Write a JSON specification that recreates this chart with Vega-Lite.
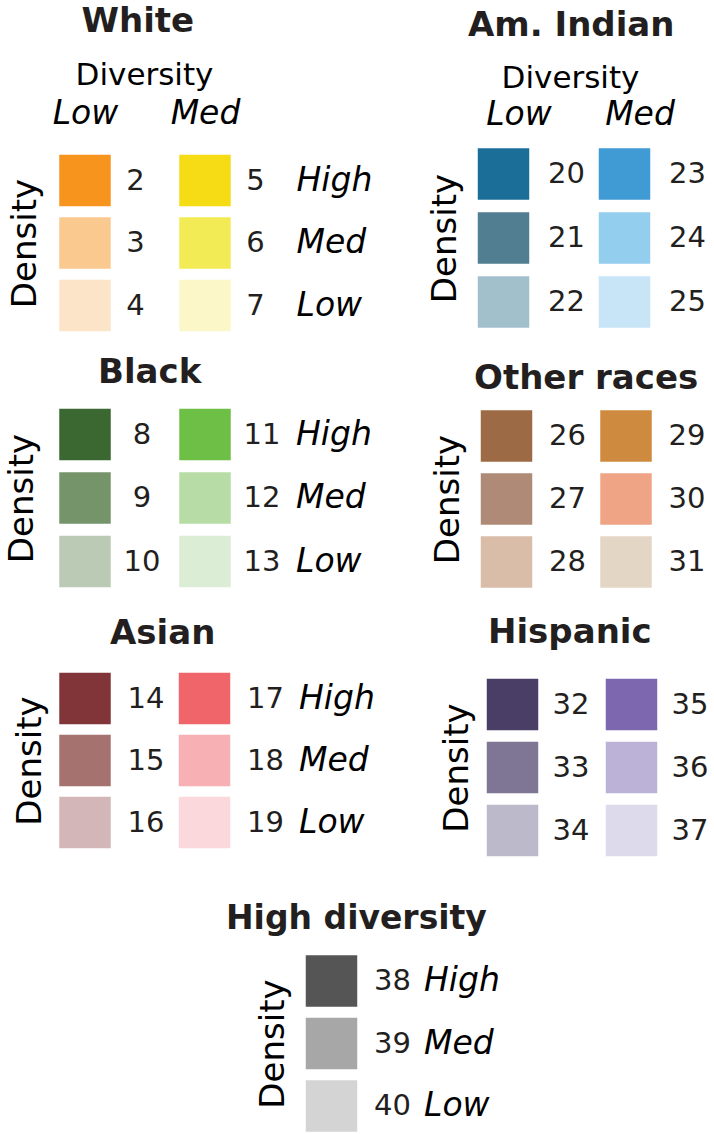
{
  "$schema": "https://vega.github.io/schema/vega-lite/v6.json",
  "padding": {"left": 5, "top": 5, "right": 4, "bottom": 0},
  "autosize": {"type": "pad"},
  "config": {
    "view": {"stroke": null},
    "font": "DejaVu Sans",
    "text": {"color": "#231f20", "font": "DejaVu Sans"},
    "axis": {"titleFont": "DejaVu Sans", "labelFont": "DejaVu Sans", "grid": false, "ticks": false, "tickSize": 0, "domain": false, "titleFontWeight": "normal", "titleColor": "#000000", "labelColor": "#000000"},
    "title": {"font": "DejaVu Sans", "fontSize": 34, "fontWeight": "bold", "color": "#231f20", "anchor": "start", "frame": "group", "align": "left", "baseline": "alphabetic"}
  },
  "datasets": {
    "cells": [
      {"group": "White", "diversity": "Low", "density": "High", "num": "2"},
      {"group": "White", "diversity": "Low", "density": "Med", "num": "3"},
      {"group": "White", "diversity": "Low", "density": "Low", "num": "4"},
      {"group": "White", "diversity": "Med", "density": "High", "num": "5"},
      {"group": "White", "diversity": "Med", "density": "Med", "num": "6"},
      {"group": "White", "diversity": "Med", "density": "Low", "num": "7"},
      {"group": "Black", "diversity": "Low", "density": "High", "num": "8"},
      {"group": "Black", "diversity": "Low", "density": "Med", "num": "9"},
      {"group": "Black", "diversity": "Low", "density": "Low", "num": "10"},
      {"group": "Black", "diversity": "Med", "density": "High", "num": "11"},
      {"group": "Black", "diversity": "Med", "density": "Med", "num": "12"},
      {"group": "Black", "diversity": "Med", "density": "Low", "num": "13"},
      {"group": "Asian", "diversity": "Low", "density": "High", "num": "14"},
      {"group": "Asian", "diversity": "Low", "density": "Med", "num": "15"},
      {"group": "Asian", "diversity": "Low", "density": "Low", "num": "16"},
      {"group": "Asian", "diversity": "Med", "density": "High", "num": "17"},
      {"group": "Asian", "diversity": "Med", "density": "Med", "num": "18"},
      {"group": "Asian", "diversity": "Med", "density": "Low", "num": "19"},
      {"group": "Am. Indian", "diversity": "Low", "density": "High", "num": "20"},
      {"group": "Am. Indian", "diversity": "Low", "density": "Med", "num": "21"},
      {"group": "Am. Indian", "diversity": "Low", "density": "Low", "num": "22"},
      {"group": "Am. Indian", "diversity": "Med", "density": "High", "num": "23"},
      {"group": "Am. Indian", "diversity": "Med", "density": "Med", "num": "24"},
      {"group": "Am. Indian", "diversity": "Med", "density": "Low", "num": "25"},
      {"group": "Other races", "diversity": "Low", "density": "High", "num": "26"},
      {"group": "Other races", "diversity": "Low", "density": "Med", "num": "27"},
      {"group": "Other races", "diversity": "Low", "density": "Low", "num": "28"},
      {"group": "Other races", "diversity": "Med", "density": "High", "num": "29"},
      {"group": "Other races", "diversity": "Med", "density": "Med", "num": "30"},
      {"group": "Other races", "diversity": "Med", "density": "Low", "num": "31"},
      {"group": "Hispanic", "diversity": "Low", "density": "High", "num": "32"},
      {"group": "Hispanic", "diversity": "Low", "density": "Med", "num": "33"},
      {"group": "Hispanic", "diversity": "Low", "density": "Low", "num": "34"},
      {"group": "Hispanic", "diversity": "Med", "density": "High", "num": "35"},
      {"group": "Hispanic", "diversity": "Med", "density": "Med", "num": "36"},
      {"group": "Hispanic", "diversity": "Med", "density": "Low", "num": "37"},
      {"group": "High diversity", "diversity": "High", "density": "High", "num": "38"},
      {"group": "High diversity", "diversity": "High", "density": "Med", "num": "39"},
      {"group": "High diversity", "diversity": "High", "density": "Low", "num": "40"}
    ]
  },
  "columns": 2,
  "spacing": {"row": 62, "column": 25},
  "bounds": "flush",
  "concat": [
    {
      "width": 400, "height": 200,
      "title": {"text": "White", "dx": 36.5, "offset": 20},
      "data": {"name": "cells"},
      "transform": [{"filter": "datum.group === 'White'"}],
      "encoding": {
        "x": {"field": "diversity", "type": "nominal", "scale": {"type": "point", "padding": 0, "domain": ["Low", "Med"], "range": [40, 160]},
          "axis": {"orient": "top", "title": "Diversity", "titleFontSize": 31, "titleBaseline": "alphabetic", "titleAlign": "center", "titleAngle": 0, "titleX": 99, "titleY": -58, "labelFontSize": 33, "labelFontStyle": "italic", "labelBaseline": "alphabetic", "labelPadding": 19, "labelAngle": 0}},
        "y": {"field": "density", "type": "nominal", "scale": {"type": "point", "padding": 0, "domain": ["High", "Med", "Low"], "range": [38.5, 163.5]},
          "axis": {"title": "Density", "labels": false, "titleFontSize": 34, "titleAngle": -90, "titleBaseline": "alphabetic", "titleAlign": "center", "titleX": -10}}
      },
      "layer": [
        {"mark": {"type": "square", "size": 2650, "filled": true, "opacity": 1},
         "encoding": {"color": {"field": "num", "type": "nominal", "legend": null,
           "scale": {"domain": ["2","3","4","5","6","7","8","9","10","11","12","13","14","15","16","17","18","19","20","21","22","23","24","25","26","27","28","29","30","31","32","33","34","35","36","37","38","39","40"],
                     "range": ["#F7941D","#FAC98F","#FCE4C9","#F5DC15","#F3EB55","#FCF7C8","#3B6830","#75946A","#BACAB5","#6DBF45","#B7DCA5","#DBEDD5","#823539","#A57270","#D3B7B8","#F0656A","#F7B1B4","#FAD8DC","#1A6E97","#527E91","#A2BFCC","#409AD3","#94CEEF","#C8E4F7","#9C6B45","#AF8A77","#D9BDA9","#CE8A3E","#F0A486","#E3D6C4","#4A3D66","#7F7595","#BCB9CB","#7D67AE","#BCB2D7","#DDDAEC","#555555","#A7A7A7","#D4D4D4"]}}}},
        {"mark": {"type": "text", "dx": 50.5, "fontSize": 29, "align": "center", "baseline": "middle"}, "encoding": {"text": {"field": "num"}}},
        {"transform": [{"filter": "datum.diversity === 'Med'"}], "mark": {"type": "text", "dx": 91.5, "fontSize": 33, "fontStyle": "italic", "align": "left", "baseline": "middle", "color": "#000000"}, "encoding": {"text": {"field": "density"}}}
      ]
    },
    {
      "width": 240, "height": 200,
      "title": {"text": "Am. Indian", "dx": -2, "offset": 19},
      "data": {"name": "cells"},
      "transform": [{"filter": "datum.group === 'Am. Indian'"}],
      "encoding": {
        "x": {"field": "diversity", "type": "nominal", "scale": {"type": "point", "padding": 0, "domain": ["Low", "Med"], "range": [33.5, 154.5]},
          "axis": {"orient": "top", "title": "Diversity", "titleFontSize": 31, "titleBaseline": "alphabetic", "titleAlign": "center", "titleAngle": 0, "titleX": 100, "titleY": -55, "labelFontSize": 33, "labelFontStyle": "italic", "labelBaseline": "alphabetic", "labelPadding": 18, "labelOffset": 15, "labelAngle": 0}},
        "y": {"field": "density", "type": "nominal", "scale": {"type": "point", "padding": 0, "domain": ["High", "Med", "Low"], "range": [32, 160]},
          "axis": {"title": "Density", "labels": false, "titleFontSize": 34, "titleAngle": -90, "titleBaseline": "alphabetic", "titleAlign": "center", "titleX": -15}}
      },
      "layer": [
        {"mark": {"type": "square", "size": 2650, "filled": true, "opacity": 1},
         "encoding": {"color": {"field": "num", "type": "nominal", "legend": null,
           "scale": {"domain": ["2","3","4","5","6","7","8","9","10","11","12","13","14","15","16","17","18","19","20","21","22","23","24","25","26","27","28","29","30","31","32","33","34","35","36","37","38","39","40"],
                     "range": ["#F7941D","#FAC98F","#FCE4C9","#F5DC15","#F3EB55","#FCF7C8","#3B6830","#75946A","#BACAB5","#6DBF45","#B7DCA5","#DBEDD5","#823539","#A57270","#D3B7B8","#F0656A","#F7B1B4","#FAD8DC","#1A6E97","#527E91","#A2BFCC","#409AD3","#94CEEF","#C8E4F7","#9C6B45","#AF8A77","#D9BDA9","#CE8A3E","#F0A486","#E3D6C4","#4A3D66","#7F7595","#BCB9CB","#7D67AE","#BCB2D7","#DDDAEC","#555555","#A7A7A7","#D4D4D4"]}}}},
        {"mark": {"type": "text", "dx": 63, "fontSize": 29, "align": "center", "baseline": "middle"}, "encoding": {"text": {"field": "num"}}}
      ]
    },
    {
      "width": 400, "height": 200,
      "title": {"text": "Black", "dx": 53, "offset": 14.5},
      "data": {"name": "cells"},
      "transform": [{"filter": "datum.group === 'Black'"}],
      "encoding": {
        "x": {"field": "diversity", "type": "nominal", "scale": {"type": "point", "padding": 0, "domain": ["Low", "Med"], "range": [40, 160]}, "axis": null},
        "y": {"field": "density", "type": "nominal", "scale": {"type": "point", "padding": 0, "domain": ["High", "Med", "Low"], "range": [30.5, 157.5]},
          "axis": {"title": "Density", "labels": false, "titleFontSize": 34, "titleAngle": -90, "titleBaseline": "alphabetic", "titleAlign": "center", "titleX": -13}}
      },
      "layer": [
        {"mark": {"type": "square", "size": 2650, "filled": true, "opacity": 1},
         "encoding": {"color": {"field": "num", "type": "nominal", "legend": null,
           "scale": {"domain": ["2","3","4","5","6","7","8","9","10","11","12","13","14","15","16","17","18","19","20","21","22","23","24","25","26","27","28","29","30","31","32","33","34","35","36","37","38","39","40"],
                     "range": ["#F7941D","#FAC98F","#FCE4C9","#F5DC15","#F3EB55","#FCF7C8","#3B6830","#75946A","#BACAB5","#6DBF45","#B7DCA5","#DBEDD5","#823539","#A57270","#D3B7B8","#F0656A","#F7B1B4","#FAD8DC","#1A6E97","#527E91","#A2BFCC","#409AD3","#94CEEF","#C8E4F7","#9C6B45","#AF8A77","#D9BDA9","#CE8A3E","#F0A486","#E3D6C4","#4A3D66","#7F7595","#BCB9CB","#7D67AE","#BCB2D7","#DDDAEC","#555555","#A7A7A7","#D4D4D4"]}}}},
        {"mark": {"type": "text", "dx": 57, "fontSize": 29, "align": "center", "baseline": "middle"}, "encoding": {"text": {"field": "num"}}},
        {"transform": [{"filter": "datum.diversity === 'Med'"}], "mark": {"type": "text", "dx": 91, "fontSize": 33, "fontStyle": "italic", "align": "left", "baseline": "middle", "color": "#000000"}, "encoding": {"text": {"field": "density"}}}
      ]
    },
    {
      "width": 240, "height": 200,
      "title": {"text": "Other races", "dx": 4, "offset": 8.2},
      "data": {"name": "cells"},
      "transform": [{"filter": "datum.group === 'Other races'"}],
      "encoding": {
        "x": {"field": "diversity", "type": "nominal", "scale": {"type": "point", "padding": 0, "domain": ["Low", "Med"], "range": [36.5, 156]}, "axis": null},
        "y": {"field": "density", "type": "nominal", "scale": {"type": "point", "padding": 0, "domain": ["High", "Med", "Low"], "range": [32, 158]},
          "axis": {"title": "Density", "labels": false, "titleFontSize": 34, "titleAngle": -90, "titleBaseline": "alphabetic", "titleAlign": "center", "titleX": -12}}
      },
      "layer": [
        {"mark": {"type": "square", "size": 2650, "filled": true, "opacity": 1},
         "encoding": {"color": {"field": "num", "type": "nominal", "legend": null,
           "scale": {"domain": ["2","3","4","5","6","7","8","9","10","11","12","13","14","15","16","17","18","19","20","21","22","23","24","25","26","27","28","29","30","31","32","33","34","35","36","37","38","39","40"],
                     "range": ["#F7941D","#FAC98F","#FCE4C9","#F5DC15","#F3EB55","#FCF7C8","#3B6830","#75946A","#BACAB5","#6DBF45","#B7DCA5","#DBEDD5","#823539","#A57270","#D3B7B8","#F0656A","#F7B1B4","#FAD8DC","#1A6E97","#527E91","#A2BFCC","#409AD3","#94CEEF","#C8E4F7","#9C6B45","#AF8A77","#D9BDA9","#CE8A3E","#F0A486","#E3D6C4","#4A3D66","#7F7595","#BCB9CB","#7D67AE","#BCB2D7","#DDDAEC","#555555","#A7A7A7","#D4D4D4"]}}}},
        {"mark": {"type": "text", "dx": 61, "fontSize": 29, "align": "center", "baseline": "middle"}, "encoding": {"text": {"field": "num"}}}
      ]
    },
    {
      "width": 400, "height": 200,
      "title": {"text": "Asian", "dx": 65, "offset": 15.2},
      "data": {"name": "cells"},
      "transform": [{"filter": "datum.group === 'Asian'"}],
      "encoding": {
        "x": {"field": "diversity", "type": "nominal", "scale": {"type": "point", "padding": 0, "domain": ["Low", "Med"], "range": [40, 159.5]}, "axis": null},
        "y": {"field": "density", "type": "nominal", "scale": {"type": "point", "padding": 0, "domain": ["High", "Med", "Low"], "range": [32.5, 156.5]},
          "axis": {"title": "Density", "labels": false, "titleFontSize": 34, "titleAngle": -90, "titleBaseline": "alphabetic", "titleAlign": "center", "titleX": -5}}
      },
      "layer": [
        {"mark": {"type": "square", "size": 2650, "filled": true, "opacity": 1},
         "encoding": {"color": {"field": "num", "type": "nominal", "legend": null,
           "scale": {"domain": ["2","3","4","5","6","7","8","9","10","11","12","13","14","15","16","17","18","19","20","21","22","23","24","25","26","27","28","29","30","31","32","33","34","35","36","37","38","39","40"],
                     "range": ["#F7941D","#FAC98F","#FCE4C9","#F5DC15","#F3EB55","#FCF7C8","#3B6830","#75946A","#BACAB5","#6DBF45","#B7DCA5","#DBEDD5","#823539","#A57270","#D3B7B8","#F0656A","#F7B1B4","#FAD8DC","#1A6E97","#527E91","#A2BFCC","#409AD3","#94CEEF","#C8E4F7","#9C6B45","#AF8A77","#D9BDA9","#CE8A3E","#F0A486","#E3D6C4","#4A3D66","#7F7595","#BCB9CB","#7D67AE","#BCB2D7","#DDDAEC","#555555","#A7A7A7","#D4D4D4"]}}}},
        {"mark": {"type": "text", "dx": 61, "fontSize": 29, "align": "center", "baseline": "middle"}, "encoding": {"text": {"field": "num"}}},
        {"transform": [{"filter": "datum.diversity === 'Med'"}], "mark": {"type": "text", "dx": 94.5, "fontSize": 33, "fontStyle": "italic", "align": "left", "baseline": "middle", "color": "#000000"}, "encoding": {"text": {"field": "density"}}}
      ]
    },
    {
      "width": 240, "height": 200,
      "title": {"text": "Hispanic", "dx": 18, "offset": 16.2},
      "data": {"name": "cells"},
      "transform": [{"filter": "datum.group === 'Hispanic'"}],
      "encoding": {
        "x": {"field": "diversity", "type": "nominal", "scale": {"type": "point", "padding": 0, "domain": ["Low", "Med"], "range": [42.5, 161.5]}, "axis": null},
        "y": {"field": "density", "type": "nominal", "scale": {"type": "point", "padding": 0, "domain": ["High", "Med", "Low"], "range": [38.5, 164.5]},
          "axis": {"title": "Density", "labels": false, "titleFontSize": 34, "titleAngle": -90, "titleBaseline": "alphabetic", "titleAlign": "center", "titleX": -3}}
      },
      "layer": [
        {"mark": {"type": "square", "size": 2650, "filled": true, "opacity": 1},
         "encoding": {"color": {"field": "num", "type": "nominal", "legend": null,
           "scale": {"domain": ["2","3","4","5","6","7","8","9","10","11","12","13","14","15","16","17","18","19","20","21","22","23","24","25","26","27","28","29","30","31","32","33","34","35","36","37","38","39","40"],
                     "range": ["#F7941D","#FAC98F","#FCE4C9","#F5DC15","#F3EB55","#FCF7C8","#3B6830","#75946A","#BACAB5","#6DBF45","#B7DCA5","#DBEDD5","#823539","#A57270","#D3B7B8","#F0656A","#F7B1B4","#FAD8DC","#1A6E97","#527E91","#A2BFCC","#409AD3","#94CEEF","#C8E4F7","#9C6B45","#AF8A77","#D9BDA9","#CE8A3E","#F0A486","#E3D6C4","#4A3D66","#7F7595","#BCB9CB","#7D67AE","#BCB2D7","#DDDAEC","#555555","#A7A7A7","#D4D4D4"]}}}},
        {"mark": {"type": "text", "dx": 58.5, "fontSize": 29, "align": "center", "baseline": "middle"}, "encoding": {"text": {"field": "num"}}}
      ]
    },
    {
      "width": 400, "height": 205,
      "title": {"text": "High diversity", "dx": 181, "offset": 0, "dy": 8, "fontSize": 33},
      "data": {"name": "cells"},
      "transform": [{"filter": "datum.group === 'High diversity'"}],
      "encoding": {
        "x": {"field": "diversity", "type": "nominal", "scale": {"type": "point", "padding": 0, "domain": ["High"], "range": [286.5, 286.5]}, "axis": null},
        "y": {"field": "density", "type": "nominal", "scale": {"type": "point", "padding": 0, "domain": ["High", "Med", "Low"], "range": [53, 178]},
          "axis": {"title": "Density", "labels": false, "titleFontSize": 34, "titleAngle": -90, "titleBaseline": "alphabetic", "titleAlign": "center", "titleX": 238}}
      },
      "layer": [
        {"mark": {"type": "square", "size": 2650, "filled": true, "opacity": 1},
         "encoding": {"color": {"field": "num", "type": "nominal", "legend": null,
           "scale": {"domain": ["2","3","4","5","6","7","8","9","10","11","12","13","14","15","16","17","18","19","20","21","22","23","24","25","26","27","28","29","30","31","32","33","34","35","36","37","38","39","40"],
                     "range": ["#F7941D","#FAC98F","#FCE4C9","#F5DC15","#F3EB55","#FCF7C8","#3B6830","#75946A","#BACAB5","#6DBF45","#B7DCA5","#DBEDD5","#823539","#A57270","#D3B7B8","#F0656A","#F7B1B4","#FAD8DC","#1A6E97","#527E91","#A2BFCC","#409AD3","#94CEEF","#C8E4F7","#9C6B45","#AF8A77","#D9BDA9","#CE8A3E","#F0A486","#E3D6C4","#4A3D66","#7F7595","#BCB9CB","#7D67AE","#BCB2D7","#DDDAEC","#555555","#A7A7A7","#D4D4D4"]}}}},
        {"mark": {"type": "text", "dx": 61, "fontSize": 29, "align": "center", "baseline": "middle"}, "encoding": {"text": {"field": "num"}}},
        {"mark": {"type": "text", "dx": 92.5, "fontSize": 33, "fontStyle": "italic", "align": "left", "baseline": "middle", "color": "#000000"}, "encoding": {"text": {"field": "density"}}}
      ]
    }
  ]
}
